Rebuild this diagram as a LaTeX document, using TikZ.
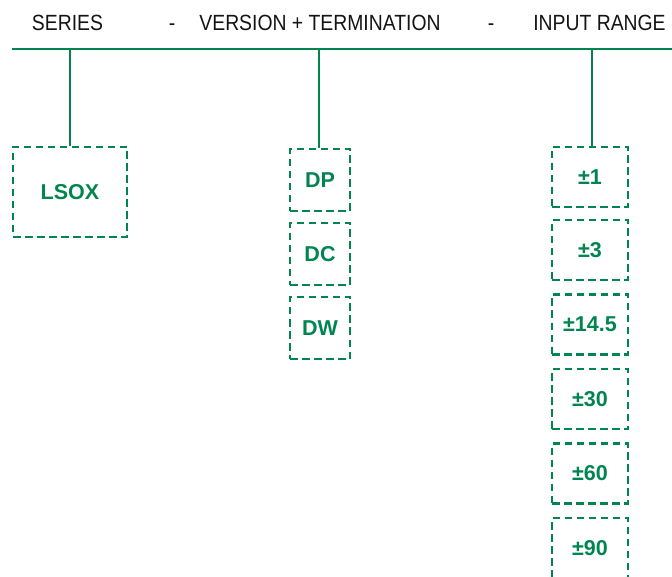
\documentclass[tikz,border=0pt]{standalone}
\usepackage{fontspec}
\setmainfont{Liberation Sans}
\newfontfamily\hdrfont[FakeStretch=0.88]{Liberation Sans}
\definecolor{lsgreen}{RGB}{0,133,80}
\definecolor{hdrtext}{RGB}{20,20,20}
\tikzset{
  hdr/.style={anchor=base, inner sep=0pt, text=hdrtext, font=\hdrfont\fontsize{22}{26}\selectfont},
  optbox/.style={draw=lsgreen, line width=2.6pt, dash pattern=on 7.5pt off 4.5pt, inner sep=0pt,
    text=lsgreen, font=\fontsize{21.5}{25}\selectfont\bfseries},
  link/.style={draw=lsgreen, line width=2.4pt},
  rail/.style={draw=lsgreen, line width=2.4pt}
}
\begin{document}
\begin{tikzpicture}[x=1pt, y=-1pt]
\useasboundingbox (0,0) rectangle (672,577);
% header
\node[hdr] (hseries) at (67.5,30.7) {SERIES};
\node[hdr] (hdash1) at (172,30.7) {-};
\node[hdr] (hversion) at (320,30.7) {VERSION + TERMINATION};
\node[hdr] (hdash2) at (491,30.7) {-};
\node[hdr] (hinput) at (599.5,30.7) {INPUT RANGE};
% rail
\coordinate (rl) at (12,49);
\coordinate (rr) at (672,49);
\draw[rail] (rl) -- (rr);
\coordinate (t1) at (70,49);
\coordinate (t2) at (319,49);
\coordinate (t3) at (592,49);
% boxes
\node[optbox, minimum width=114pt, minimum height=90pt] (lsox) at (70,192) {LSOX};
\node[optbox, minimum width=60pt, minimum height=62pt] (dp) at (320,180) {DP};
\node[optbox, minimum width=60pt, minimum height=62pt] (dc) at (320,254) {DC};
\node[optbox, minimum width=60pt, minimum height=62pt] (dw) at (320,328) {DW};
\node[optbox, minimum width=76pt, minimum height=60pt] (r1) at (590,177) {±1};
\node[optbox, minimum width=76pt, minimum height=60pt] (r2) at (590,250) {±3};
\node[optbox, minimum width=76pt, minimum height=60pt] (r3) at (590,324.5) {±14.5};
\node[optbox, minimum width=76pt, minimum height=60pt] (r4) at (590,399) {±30};
\node[optbox, minimum width=76pt, minimum height=60pt] (r5) at (590,473.5) {±60};
\node[optbox, minimum width=76pt, minimum height=60pt] (r6) at (590,548) {±90};
% connectors
\draw[link] (t1) -- (t1 |- lsox.north);
\draw[link] (t2) -- (t2 |- dp.north);
\draw[link] (t3) -- (t3 |- r1.north);
\end{tikzpicture}
\end{document}
